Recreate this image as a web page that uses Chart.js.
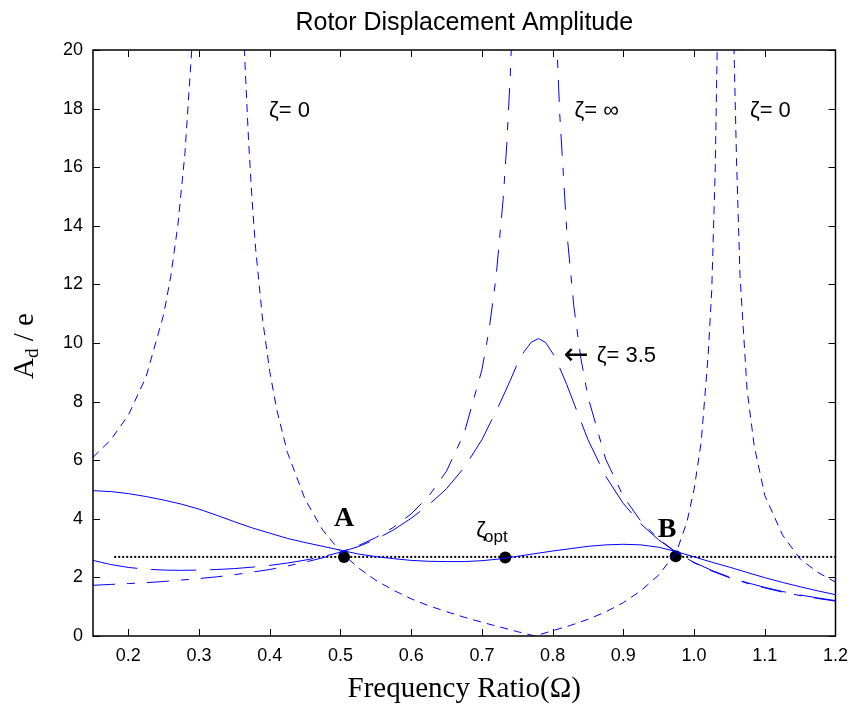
<!DOCTYPE html>
<html><head><meta charset="utf-8">
<style>html,body{margin:0;padding:0;background:#fff;} canvas{display:block;}</style>
</head><body>
<canvas id="chart" width="857" height="707"></canvas>
<script src="https://cdn.jsdelivr.net/npm/chart.js@4.4.1/dist/chart.umd.min.js"></script>
<script>
// ---------- data ----------
const xTickValues = [0.2, 0.3, 0.4, 0.5, 0.6, 0.7, 0.8, 0.9, 1.0, 1.1, 1.2];
const yTickValues = [0, 2, 4, 6, 8, 10, 12, 14, 16, 18, 20];

// zeta = 0 (undamped), three branches
const zeta0Freq1 = [0.15, 0.175, 0.2, 0.225, 0.25, 0.26, 0.27, 0.28, 0.29, 0.295];
const zeta0Amp1  = [6.10, 6.69, 7.54, 8.84, 10.98, 12.28, 14.02, 16.47, 20.14, 22.8];
const zeta0Freq2 = [0.362, 0.365, 0.37, 0.375, 0.38, 0.39, 0.4, 0.41, 0.425, 0.45, 0.475, 0.5, 0.525, 0.55, 0.575, 0.6, 0.625, 0.65, 0.675, 0.7, 0.725, 0.75, 0.775, 0.8, 0.825, 0.85, 0.875, 0.9, 0.925, 0.95, 0.975, 0.99, 1.0, 1.01, 1.02, 1.025, 1.03, 1.033, 1.035];
const zeta0Amp2  = [21.5, 19.5, 16.9, 14.86, 13.22, 10.77, 9.02, 7.71, 6.26, 4.66, 3.61, 2.88, 2.33, 1.90, 1.56, 1.27, 1.03, 0.83, 0.64, 0.47, 0.31, 0.15, 0.0, 0.18, 0.36, 0.57, 0.82, 1.14, 1.55, 2.08, 2.86, 3.9, 5.0, 6.6, 9.6, 11.8, 16.0, 20.5, 24.0];
const zeta0Freq3 = [1.054, 1.057, 1.06, 1.065, 1.075, 1.085, 1.1, 1.125, 1.15, 1.175, 1.2];
const zeta0Amp3  = [23.0, 19.5, 16.3, 12.3, 8.4, 6.5, 4.8, 3.45, 2.63, 2.17, 1.84];

// zeta = infinity, two branches
const zetaInfFreq1 = [0.15, 0.175, 0.2, 0.225, 0.25, 0.275, 0.3, 0.325, 0.35, 0.375, 0.4, 0.425, 0.45, 0.475, 0.5, 0.525, 0.55, 0.575, 0.6, 0.625, 0.65, 0.675, 0.7, 0.71, 0.72, 0.73, 0.735, 0.74, 0.745];
const zetaInfAmp1  = [1.73, 1.76, 1.79, 1.82, 1.86, 1.91, 1.96, 2.02, 2.09, 2.18, 2.27, 2.39, 2.52, 2.67, 2.86, 3.08, 3.36, 3.71, 4.17, 4.78, 5.63, 6.93, 9.09, 10.43, 12.25, 14.90, 16.73, 19.08, 22.23];
const zetaInfFreq2 = [0.805, 0.81, 0.82, 0.83, 0.84, 0.85, 0.875, 0.9, 0.925, 0.95, 0.975, 1.0, 1.025, 1.05, 1.075, 1.1, 1.125, 1.15, 1.175, 1.2];
const zetaInfAmp2  = [20.82, 17.83, 13.81, 11.25, 9.47, 8.16, 6.04, 4.76, 3.91, 3.31, 2.85, 2.50, 2.22, 1.99, 1.80, 1.64, 1.50, 1.38, 1.28, 1.19];

// zeta = 3.5
const zeta35Freq = [0.15, 0.175, 0.2, 0.225, 0.25, 0.275, 0.3, 0.325, 0.35, 0.375, 0.4, 0.425, 0.45, 0.475, 0.5, 0.525, 0.55, 0.575, 0.6, 0.625, 0.65, 0.675, 0.7, 0.725, 0.74, 0.75, 0.76, 0.77, 0.78, 0.79, 0.8, 0.81, 0.82, 0.83, 0.84, 0.85, 0.875, 0.9, 0.925, 0.95, 0.975, 1.0, 1.025, 1.05, 1.075, 1.1, 1.125, 1.15, 1.175, 1.2];
const zeta35Amp  = [2.58, 2.44, 2.34, 2.28, 2.25, 2.24, 2.25, 2.27, 2.30, 2.35, 2.41, 2.49, 2.59, 2.71, 2.86, 3.05, 3.30, 3.62, 4.02, 4.48, 5.03, 5.75, 6.70, 7.92, 8.72, 9.28, 9.72, 10.03, 10.15, 10.02, 9.65, 9.15, 8.58, 7.95, 7.32, 6.70, 5.45, 4.52, 3.82, 3.28, 2.85, 2.51, 2.24, 2.01, 1.82, 1.66, 1.52, 1.40, 1.30, 1.21];

// zeta = optimum
const zetaOptFreq = [0.15, 0.175, 0.2, 0.225, 0.25, 0.275, 0.3, 0.325, 0.35, 0.375, 0.4, 0.425, 0.45, 0.475, 0.5, 0.525, 0.55, 0.575, 0.6, 0.625, 0.65, 0.675, 0.7, 0.725, 0.75, 0.775, 0.8, 0.825, 0.85, 0.875, 0.9, 0.925, 0.95, 0.975, 1.0, 1.025, 1.05, 1.075, 1.1, 1.125, 1.15, 1.175, 1.2];
const zetaOptAmp  = [4.96, 4.93, 4.86, 4.76, 4.64, 4.50, 4.33, 4.12, 3.90, 3.69, 3.51, 3.33, 3.19, 3.06, 2.93, 2.80, 2.71, 2.64, 2.58, 2.55, 2.54, 2.54, 2.57, 2.63, 2.72, 2.81, 2.90, 2.98, 3.06, 3.11, 3.13, 3.11, 3.03, 2.88, 2.70, 2.52, 2.35, 2.17, 1.99, 1.83, 1.68, 1.54, 1.41];

// fixed points A, zeta_opt, B and the dotted reference level
const markFreq = [0.505, 0.733, 0.974];
const markAmp  = [2.70, 2.68, 2.72];
const levelFreq = [0.18, 1.2];
const levelAmp  = [2.70, 2.70];

// ---------- build ----------
function pts(xs, ys) { return xs.map((x, i) => ({ x: x, y: ys[i] })); }
const BLUE = '#0000ff';
function curve(xs, ys, dash) {
  return { data: pts(xs, ys), borderColor: BLUE, borderWidth: 1, borderDash: dash,
           pointRadius: 0, fill: false, tension: 0, showLine: true };
}

const datasets = [
  curve(zeta0Freq1, zeta0Amp1, [8, 6]),
  curve(zeta0Freq2, zeta0Amp2, [8, 6]),
  curve(zeta0Freq3, zeta0Amp3, [8, 6]),
  curve(zetaInfFreq1, zetaInfAmp1, [22, 12, 8, 12]),
  curve(zetaInfFreq2, zetaInfAmp2, [22, 12, 8, 12]),
  curve(zeta35Freq, zeta35Amp, [45, 14]),
  curve(zetaOptFreq, zetaOptAmp, []),
  { data: pts(levelFreq, levelAmp), borderColor: '#000', borderWidth: 2, borderDash: [2, 2],
    pointRadius: 0, showLine: true, fill: false },
  { data: pts(markFreq, markAmp), borderColor: '#000', backgroundColor: '#000',
    pointRadius: 6, pointBorderWidth: 0, showLine: false }
];

const SANS = '"Liberation Sans", Arial, Helvetica, sans-serif';
const SERIF = '"Liberation Serif", "Times New Roman", serif';
const ARROWFONT = '"DejaVu Sans", "Liberation Sans", sans-serif';

const decor = {
  id: 'decor',
  afterDraw(chart) {
    const { ctx, chartArea: a, scales: { x, y } } = chart;
    ctx.save();
    // inside tick marks
    ctx.strokeStyle = '#000';
    ctx.lineWidth = 1;
    const tl = 7;
    ctx.beginPath();
    xTickValues.forEach(v => {
      const px = Math.round(x.getPixelForValue(v)) + 0.5;
      ctx.moveTo(px, a.bottom); ctx.lineTo(px, a.bottom - tl);
      ctx.moveTo(px, a.top); ctx.lineTo(px, a.top + tl);
    });
    yTickValues.forEach(v => {
      const py = Math.round(y.getPixelForValue(v)) + 0.5;
      ctx.moveTo(a.left, py); ctx.lineTo(a.left + tl, py);
      ctx.moveTo(a.right, py); ctx.lineTo(a.right - tl, py);
    });
    ctx.stroke();
    // box
    ctx.lineWidth = 1.5;
    ctx.strokeRect(a.left, a.top, a.right - a.left, a.bottom - a.top);

    ctx.fillStyle = '#000';
    // title
    ctx.textAlign = 'center';
    ctx.textBaseline = 'alphabetic';
    ctx.font = '25px ' + SANS;
    ctx.fillText('Rotor Displacement Amplitude', (a.left + a.right) / 2, 30);
    // x title
    ctx.font = '29px ' + SERIF;
    ctx.fillText('Frequency Ratio(\u03A9)', (a.left + a.right) / 2, 697);
    // y title (rotated, with subscript)
    ctx.save();
    ctx.translate(33, (a.top + a.bottom) / 2 + 3);
    ctx.rotate(-Math.PI / 2);
    ctx.textAlign = 'left';
    const big = '29px ' + SERIF, small = '19px ' + SERIF;
    ctx.font = big; const wA = ctx.measureText('A').width;
    ctx.font = small; const wd = ctx.measureText('d').width;
    ctx.font = big; const wr = ctx.measureText(' / e').width;
    let sx = -(wA + wd + wr) / 2;
    ctx.font = big; ctx.fillText('A', sx, 0); sx += wA;
    ctx.font = small; ctx.fillText('d', sx, 5); sx += wd;
    ctx.font = big; ctx.fillText(' / e', sx, 0);
    ctx.restore();

    // annotations (placed in data coordinates)
    ctx.textAlign = 'left';
    ctx.font = '22px ' + SANS;
    ctx.fillText('\u03B6= 0', x.getPixelForValue(0.399), y.getPixelForValue(17.7));
    ctx.fillText('\u03B6= \u221E', x.getPixelForValue(0.831), y.getPixelForValue(17.7));
    ctx.fillText('\u03B6= 0', x.getPixelForValue(1.079), y.getPixelForValue(17.7));
    // arrow label for zeta = 3.5
    const ax = x.getPixelForValue(0.8185), ay = y.getPixelForValue(9.35);
    ctx.font = '30px ' + ARROWFONT;
    ctx.fillText('\u2190', ax - 2, ay + 2);
    const aw = ctx.measureText('\u2190').width;
    ctx.font = '22px ' + SANS;
    ctx.fillText('\u03B6= 3.5', ax + aw + 6, ay);
    // zeta_opt
    const zx = x.getPixelForValue(0.692), zy = y.getPixelForValue(3.38);
    ctx.fillText('\u03B6', zx, zy);
    const zw = ctx.measureText('\u03B6').width;
    ctx.font = '17px ' + SANS;
    ctx.fillText('opt', zx + zw - 2, zy + 5);
    // A and B
    ctx.textAlign = 'center';
    ctx.font = 'bold 28px ' + SERIF;
    ctx.fillText('A', x.getPixelForValue(0.505), y.getPixelForValue(3.75));
    ctx.fillText('B', x.getPixelForValue(0.962), y.getPixelForValue(3.38));
    ctx.restore();
  }
};

new Chart(document.getElementById('chart'), {
  type: 'line',
  data: { datasets: datasets },
  options: {
    responsive: false,
    devicePixelRatio: 1,
    animation: false,
    layout: { padding: { top: 50, right: 18, left: 0, bottom: 0 } },
    plugins: { legend: { display: false }, tooltip: { enabled: false }, title: { display: false } },
    scales: {
      x: {
        type: 'linear', min: 0.15, max: 1.2,
        grid: { display: false, drawTicks: false },
        border: { display: false },
        afterBuildTicks: s => { s.ticks = xTickValues.map(v => ({ value: v })); },
        afterFit: s => { s.height = 71; },
        ticks: { color: '#000', font: { family: SANS, size: 18 }, padding: 9, maxRotation: 0, autoSkip: false }
      },
      y: {
        type: 'linear', min: 0, max: 20,
        grid: { display: false, drawTicks: false },
        border: { display: false },
        afterBuildTicks: s => { s.ticks = yTickValues.map(v => ({ value: v })); },
        afterFit: s => { s.width = 93; },
        ticks: { color: '#000', font: { family: SANS, size: 18 }, padding: 10, autoSkip: false }
      }
    }
  },
  plugins: [decor]
});
</script>
</body></html>
